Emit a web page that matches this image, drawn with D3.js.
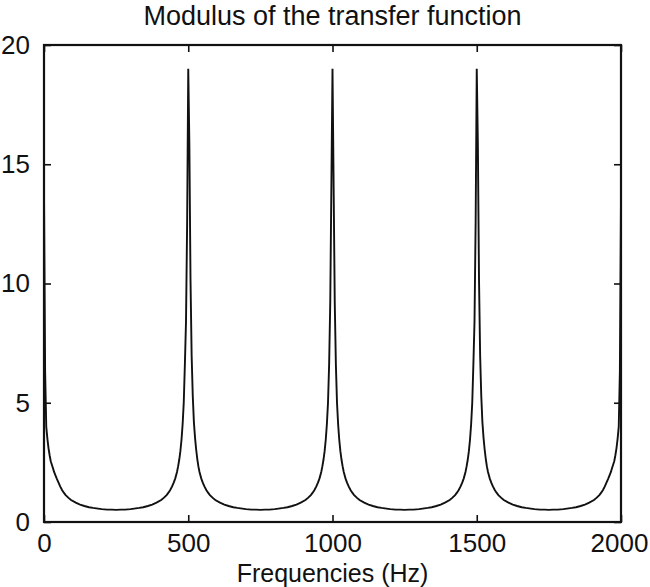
<!DOCTYPE html>
<html>
<head>
<meta charset="utf-8">
<script src="https://cdn.jsdelivr.net/npm/d3@7"></script>
<style>
  html, body { margin: 0; padding: 0; background: #ffffff; }
  svg { display: block; }
  text { font-family: "Liberation Sans", Arial, Helvetica, sans-serif; fill: #111; }
</style>
</head>
<body>
<svg id="chart" width="650" height="587"></svg>
<script>
// ---- Data ----
const chartTitle = "Modulus of the transfer function";
const xAxisLabel = "Frequencies (Hz)";
const xTickValues = [0, 500, 1000, 1500, 2000];
const yTickValues = [0, 5, 10, 15, 20];

// Frequencies (Hz) of the sampled points
const frequencies = [
  0, 3.9, 7.8, 11.7, 15.6, 19.5, 23.4, 27.3, 31.25, 35, 39, 45, 50, 56, 62.5, 68, 75, 85, 93.75, 110, 125, 140, 156, 170, 187.5, 200, 218.75, 235, 250,
  265, 281.25, 300, 312.5, 330, 344, 360, 375, 390, 406.25, 415, 425, 432, 437.5, 444, 450, 455, 461, 465, 468.75, 472.7, 476.6, 480.5, 484.4, 488.3, 492.2, 496.1,
  500,
  503.9, 507.8, 511.7, 515.6, 519.5, 523.4, 527.3, 531.25, 535, 539, 545, 550, 556, 562.5, 568, 575, 585, 593.75, 610, 625, 640, 656, 670, 687.5, 700, 718.75, 735, 750,
  765, 781.25, 800, 812.5, 830, 844, 860, 875, 890, 906.25, 915, 925, 932, 937.5, 944, 950, 955, 961, 965, 968.75, 972.7, 976.6, 980.5, 984.4, 988.3, 992.2, 996.1,
  1000,
  1003.9, 1007.8, 1011.7, 1015.6, 1019.5, 1023.4, 1027.3, 1031.25, 1035, 1039, 1045, 1050, 1056, 1062.5, 1068, 1075, 1085, 1093.75, 1110, 1125, 1140, 1156, 1170, 1187.5, 1200, 1218.75, 1235, 1250,
  1265, 1281.25, 1300, 1312.5, 1330, 1344, 1360, 1375, 1390, 1406.25, 1415, 1425, 1432, 1437.5, 1444, 1450, 1455, 1461, 1465, 1468.75, 1472.7, 1476.6, 1480.5, 1484.4, 1488.3, 1492.2, 1496.1,
  1500,
  1503.9, 1507.8, 1511.7, 1515.6, 1519.5, 1523.4, 1527.3, 1531.25, 1535, 1539, 1545, 1550, 1556, 1562.5, 1568, 1575, 1585, 1593.75, 1610, 1625, 1640, 1656, 1670, 1687.5, 1700, 1718.75, 1735, 1750,
  1765, 1781.25, 1800, 1812.5, 1830, 1844, 1860, 1875, 1890, 1906.25, 1915, 1925, 1932, 1937.5, 1944, 1950, 1955, 1961, 1965, 1968.75, 1972.7, 1976.6, 1980.5, 1984.4, 1988.3, 1992.2, 1996.1, 2000
];

// Modulus of the transfer function at those frequencies
const modulus = [
  13.8, 6.3, 4.0, 3.5, 3.1, 2.8, 2.55, 2.4, 2.25, 2.1, 1.98, 1.8, 1.66, 1.49, 1.34, 1.24, 1.13, 1.01, 0.92, 0.81, 0.73, 0.67, 0.62, 0.59, 0.56, 0.54, 0.52, 0.52, 0.51,
  0.52, 0.52, 0.54, 0.56, 0.59, 0.62, 0.67, 0.73, 0.81, 0.92, 1.01, 1.13, 1.24, 1.34, 1.49, 1.66, 1.83, 2.10, 2.34, 2.61, 2.97, 3.45, 4.1, 5.0, 6.6, 8.4, 12.5,
  19.0,
  15.8, 10.2, 7.0, 5.3, 4.2, 3.55, 3.05, 2.65, 2.34, 2.10, 1.83, 1.66, 1.49, 1.34, 1.24, 1.13, 1.01, 0.92, 0.81, 0.73, 0.67, 0.62, 0.59, 0.56, 0.54, 0.52, 0.52, 0.51,
  0.52, 0.52, 0.54, 0.56, 0.59, 0.62, 0.67, 0.73, 0.81, 0.92, 1.01, 1.13, 1.24, 1.34, 1.49, 1.66, 1.83, 2.10, 2.34, 2.61, 2.97, 3.45, 4.1, 5.0, 6.6, 9.2, 14.1,
  19.0,
  14.1, 9.2, 6.6, 5.0, 4.1, 3.45, 2.97, 2.61, 2.34, 2.10, 1.83, 1.66, 1.49, 1.34, 1.24, 1.13, 1.01, 0.92, 0.81, 0.73, 0.67, 0.62, 0.59, 0.56, 0.54, 0.52, 0.52, 0.51,
  0.52, 0.52, 0.54, 0.56, 0.59, 0.62, 0.67, 0.73, 0.81, 0.92, 1.01, 1.13, 1.24, 1.34, 1.49, 1.66, 1.83, 2.10, 2.34, 2.61, 2.97, 3.45, 4.1, 5.0, 6.6, 8.4, 12.5,
  19.0,
  15.8, 10.2, 7.0, 5.3, 4.2, 3.55, 3.05, 2.65, 2.34, 2.10, 1.83, 1.66, 1.49, 1.34, 1.24, 1.13, 1.01, 0.92, 0.81, 0.73, 0.67, 0.62, 0.59, 0.56, 0.54, 0.52, 0.52, 0.51,
  0.52, 0.52, 0.54, 0.56, 0.59, 0.62, 0.67, 0.73, 0.81, 0.92, 1.01, 1.13, 1.24, 1.34, 1.49, 1.66, 1.8, 1.98, 2.1, 2.25, 2.4, 2.55, 2.8, 3.1, 3.5, 4.0, 6.3, 13.6
];

// ---- Layout ----
const svg = d3.select("#chart");
const plot = { left: 44, right: 621, top: 45, bottom: 522 };

const x = d3.scaleLinear().domain([0, 2000]).range([plot.left, plot.right]);
const y = d3.scaleLinear().domain([0, 20]).range([plot.bottom, plot.top]);

const data = frequencies.map((f, i) => ({ f, m: modulus[i] }));

// Curve
const line = d3.line().x(d => x(d.f)).y(d => y(d.m));
svg.append("path")
  .datum(data)
  .attr("d", line)
  .attr("fill", "none")
  .attr("stroke", "#111")
  .attr("stroke-width", 1.9)
  .attr("stroke-linejoin", "miter");

// Axes (ticks pointing inward, MATLAB style)
const tickLen = 7;
const fontSize = 26;

const xBottom = d3.axisBottom(x).tickValues(xTickValues).tickSize(-tickLen).tickPadding(12).tickFormat(d3.format("d"));
const xTop = d3.axisTop(x).tickValues(xTickValues).tickSize(-tickLen).tickFormat("");
const yLeft = d3.axisLeft(y).tickValues(yTickValues).tickSize(-tickLen).tickPadding(14).tickFormat(d3.format("d"));
const yRight = d3.axisRight(y).tickValues(yTickValues).tickSize(-tickLen).tickFormat("");

function style(g) {
  g.select(".domain").remove();
  g.selectAll(".tick line").attr("stroke", "#111").attr("stroke-width", 1.6);
  g.selectAll(".tick text")
    .attr("font-size", fontSize)
    .attr("font-family", "Liberation Sans, Arial, sans-serif")
    .attr("fill", "#111");
}

svg.append("g").attr("transform", `translate(0,${plot.bottom})`).call(xBottom).call(style);
svg.append("g").attr("transform", `translate(0,${plot.top})`).call(xTop).call(style);
svg.append("g").attr("transform", `translate(${plot.left},0)`).call(yLeft).call(style);
svg.append("g").attr("transform", `translate(${plot.right},0)`).call(yRight).call(style);

// Keep the rightmost tick label inside the picture
svg.selectAll("g .tick text").filter(d => d === 2000).attr("dx", -2);

// Frame
svg.append("rect")
  .attr("x", plot.left).attr("y", plot.top)
  .attr("width", plot.right - plot.left).attr("height", plot.bottom - plot.top)
  .attr("fill", "none").attr("stroke", "#111").attr("stroke-width", 2.2);

// Title
svg.append("text")
  .attr("x", (plot.left + plot.right) / 2)
  .attr("y", 25)
  .attr("text-anchor", "middle")
  .attr("font-size", 27)
  .text(chartTitle);

// X axis label
svg.append("text")
  .attr("x", (plot.left + plot.right) / 2)
  .attr("y", 582)
  .attr("text-anchor", "middle")
  .attr("font-size", 25)
  .text(xAxisLabel);
</script>
</body>
</html>
